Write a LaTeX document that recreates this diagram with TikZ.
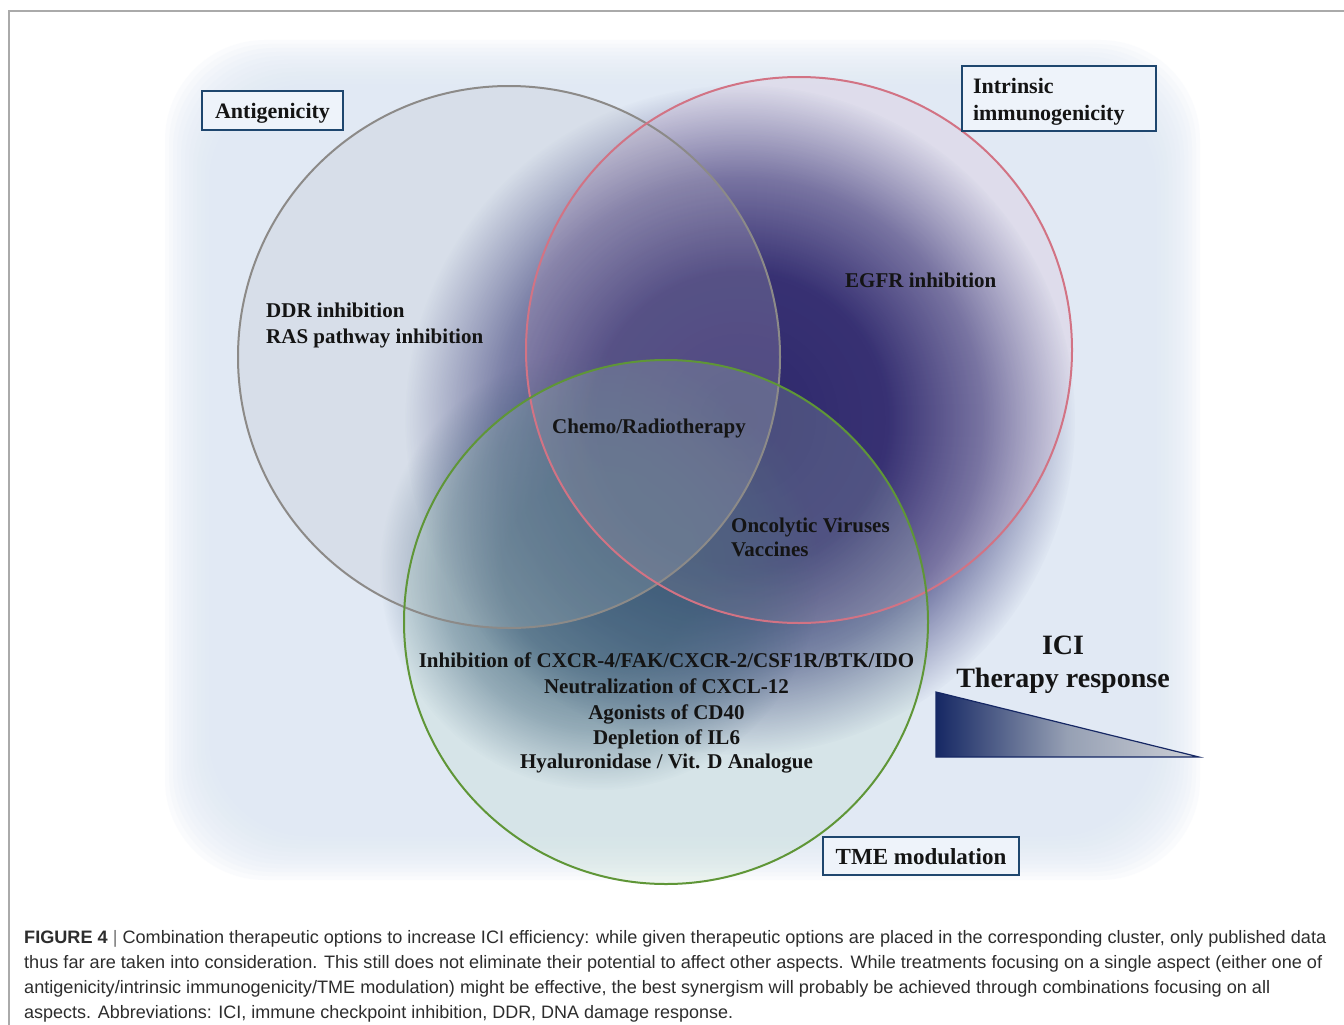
\documentclass[tikz,border=0pt]{standalone}
\usepackage{fontspec}
\setmainfont{Liberation Serif}
\newfontfamily\capfont{Liberation Sans}
\usepackage{graphicx}
\usetikzlibrary{fadings}

\definecolor{bgblue}{RGB}{222,232,244}
\definecolor{glownavy}{RGB}{20,22,96}
\definecolor{glowteal}{RGB}{30,65,100}
\definecolor{fillgray}{RGB}{185,190,200}
\definecolor{fillpink}{RGB}{205,150,185}
\definecolor{fillgreen}{RGB}{175,212,190}
\definecolor{circgray}{RGB}{140,138,136}
\definecolor{circpink}{RGB}{210,115,132}
\definecolor{circgreen}{RGB}{95,150,55}
\definecolor{boxnavy}{RGB}{30,70,110}
\definecolor{boxfill}{RGB}{238,243,250}
\definecolor{trileft}{RGB}{22,40,100}
\definecolor{trimid}{RGB}{150,160,180}
\definecolor{triright}{RGB}{205,208,214}
\definecolor{capgray}{RGB}{45,45,45}
\definecolor{framegray}{RGB}{170,170,170}

\pgfdeclareradialshading{glowsh}{\pgfpointorigin}{color(0bp)=(white); color(11bp)=(black!5); color(18bp)=(black!42); color(25bp)=(black); color(50bp)=(black)}
\pgfdeclarefading{glowfade}{\pgfuseshading{glowsh}}

\tikzset{
  vcirc/.style={circle, line width=2pt, inner sep=0pt},
  ctext/.style={font=\fontsize{21}{25}\selectfont\bfseries, text=black!92, inner sep=0pt},
  labelbox/.style={draw=boxnavy, line width=2pt, fill=boxfill, inner sep=0pt,
     font=\fontsize{22}{27}\selectfont\bfseries, text=black!92},
  captext/.style={font=\capfont\fontsize{18}{22}\selectfont, text=capgray, inner sep=0pt, anchor=base west},
}

\begin{document}
\begin{tikzpicture}[x=1pt,y=-1pt]
\useasboundingbox (0,0) rectangle (1344,1025);
\fill[white] (0,0) rectangle (1344,1025);
\draw[framegray, line width=1.2pt] (9,1025) -- (9,11) -- (1344,11);

% soft background
\foreach \i in {0,...,11}
  \fill[bgblue, fill opacity=0.14, rounded corners=100pt] ({165+\i*4},{40+\i*4}) rectangle ({1200-\i*4},{880-\i*4});

% dark glow
\fill[glownavy, path fading=glowfade] (740,420) circle (335);
\fill[glowteal, path fading=glowfade, fill opacity=0.75] (600,570) circle (220);

% circle fills
\fill[fillgray, fill opacity=0.24] (509,357) circle (271);
\fill[fillpink, fill opacity=0.15] (799,350) circle (273);
\fill[fillgreen, fill opacity=0.21] (666,622) circle (262);

% circle outlines
\node[vcirc, draw=circgray, minimum size=542pt] (antigen) at (509,357) {};
\node[vcirc, draw=circpink, minimum size=546pt] (intrinsic) at (799,350) {};
\node[vcirc, draw=circgreen, minimum size=524pt] (tme) at (666,622) {};

% labels
\node[labelbox, minimum width=141pt, minimum height=39pt, text height=17pt, text depth=2pt] (lantigen) at (272.5,110.5) {Antigenicity};
\node[labelbox, minimum width=194pt, minimum height=65pt, text width=172pt, align=left] (lintrinsic) at (1059,98.5) {\rule{0pt}{21pt}Intrinsic\\immunogenicity};
\node[labelbox, minimum width=196pt, minimum height=38pt, text height=18pt, text depth=2pt, font=\fontsize{23}{27}\selectfont\bfseries] (ltme) at (921,856) {TME modulation};

% texts in circles
\node[ctext, anchor=base west] (ddr) at (266,317) {DDR inhibition};
\node[ctext, anchor=base west] (ras) at (266,343) {RAS pathway inhibition};
\node[ctext, anchor=base west] (egfr) at (845,287) {EGFR inhibition};
\node[ctext, anchor=base west] (chemo) at (552,433) {Chemo/Radiotherapy};
\node[ctext, anchor=base west] (onco) at (731,532) {Oncolytic Viruses};
\node[ctext, anchor=base west] (vacc) at (731,556) {Vaccines};
\node[ctext, anchor=base] (inh) at (666.5,667) {Inhibition of CXCR-4/FAK/CXCR-2/CSF1R/BTK/IDO};
\node[ctext, anchor=base] (neut) at (666.5,693) {Neutralization of CXCL-12};
\node[ctext, anchor=base] (agon) at (666.5,719) {Agonists of CD40};
\node[ctext, anchor=base] (depl) at (666.5,744) {Depletion of IL6};
\node[ctext, anchor=base] (hyal) at (666.5,768) {Hyaluronidase / Vit. D Analogue};

% ICI therapy response
\node[ctext, anchor=base, font=\fontsize{28}{30}\selectfont\bfseries] (ici) at (1063,654) {ICI};
\node[ctext, anchor=base, font=\fontsize{28}{30}\selectfont\bfseries] (ther) at (1063,687) {Therapy response};
\coordinate (tA) at (936,692);
\coordinate (tB) at (936,757);
\coordinate (tC) at (1199,757);
\shade[left color=trileft, right color=triright, middle color=trimid] (tA) -- (tB) -- (tC) -- cycle;
\draw[trileft, line width=1.2pt, line join=miter] (tA) -- (tB) -- (tC) -- cycle;

% caption
\node[captext] (cap1) at (24,943) {\resizebox{1302pt}{\height}{\textbf{FIGURE 4} {\color{black!55}|} Combination therapeutic options to increase ICI efficiency: while given therapeutic options are placed in the corresponding cluster, only published data}};
\node[captext] (cap2) at (24,968) {\resizebox{1298pt}{\height}{thus far are taken into consideration. This still does not eliminate their potential to affect other aspects. While treatments focusing on a single aspect (either one of}};
\node[captext] (cap3) at (24,993) {\resizebox{1246pt}{\height}{antigenicity/intrinsic immunogenicity/TME modulation) might be effective, the best synergism will probably be achieved through combinations focusing on all}};
\node[captext] (cap4) at (24,1018) {\resizebox{709pt}{\height}{aspects. Abbreviations: ICI, immune checkpoint inhibition, DDR, DNA damage response.}};
\end{tikzpicture}
\end{document}
